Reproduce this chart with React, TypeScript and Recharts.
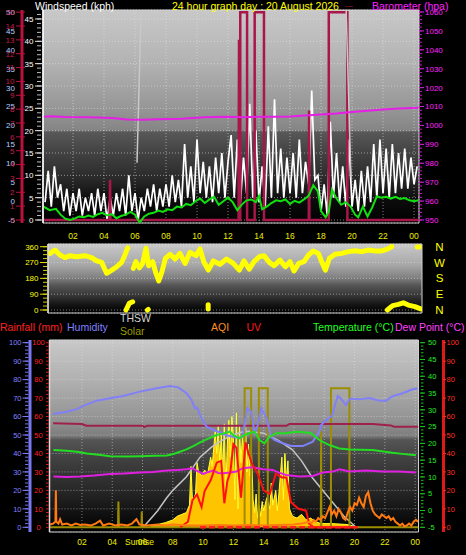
import React from 'react';
import { ComposedChart, Line, Area, XAxis, YAxis, CartesianGrid, ReferenceArea } from 'recharts';

const FONT = '"Liberation Sans", Arial, Helvetica, sans-serif';
type P = [number, number];
const pts = (a: P[]) => a.map(([h, v]) => ({ h, v }));
const range = (a: number, b: number, s: number) => {
  const out: number[] = [];
  for (let v = a; v <= b + 1e-9; v += s) out.push(Math.round(v * 1000) / 1000);
  return out;
};

/* ---------------- shared time axis ---------------- */
const hourTicks = [2, 4, 6, 8, 10, 12, 14, 16, 18, 20, 22, 24];
const hourLabels = ['02', '04', '06', '08', '10', '12', '14', '16', '18', '20', '22', '00'];

/* ---------------- panel 1 : wind speed / barometer ---------------- */
const windSpeedStartHour = 0.2;
const windSpeedStepHour = 0.2;
const windSpeedKph = [
  4, 11, 3, 12, 5, 8, 2, 7, 1, 6, 2, 7, 1, 5, 2, 6, 1, 7, 2, 6,
  0, 5, 1, 6, 2, 7, 1, 10, 2, 6, 0, 5, 2, 7, 3, 8, 2, 7, 3, 8,
  3, 10, 4, 9, 3, 17, 5, 12, 4, 18, 6, 13, 5, 12, 4, 14, 6, 15, 5, 13,
  19, 5, 18, 4, 14, 6, 26, 5, 20, 4, 12, 3, 21, 5, 27, 6, 16, 5, 14, 6,
  15, 5, 18, 6, 13, 8, 29, 9, 10, 2, 8, 1, 22, 5, 15, 4, 12, 3, 18, 3,
  9, 2, 11, 3, 12, 4, 17, 5, 18, 6, 16, 5, 17, 6, 15, 7, 16, 7, 14, 8, 12,
];
const windAvgKph: P[] = [
  [0.1, 3.0], [0.5, 2.2], [0.9, 2.5], [1.2, 1.2], [1.5, 0.3], [1.8, 0], [2.1, 0.3], [2.4, 0.8], [2.7, 0.6],
  [3.0, 1.0], [3.3, 0.7], [3.6, 1.3], [3.9, 1.6], [4.2, 1.0], [4.5, 1.3], [4.8, 0.4], [5.1, 0.9], [5.4, 1.2],
  [5.7, 1.8], [6.0, 1.2], [6.3, -0.6], [6.6, 0.8], [6.9, 1.4], [7.2, 1.6], [7.5, 2.1], [7.8, 1.8], [8.1, 2.4],
  [8.4, 2.2], [8.7, 3.0], [9.0, 2.8], [9.3, 3.6], [9.6, 3.3], [9.9, 4.2], [10.2, 4.8], [10.5, 3.8], [10.8, 4.6],
  [11.1, 5.2], [11.4, 3.4], [11.7, 4.2], [12.0, 5.0], [12.3, 4.0], [12.6, 2.2], [12.9, 3.5], [13.2, 4.4],
  [13.5, 4.6], [13.8, 4.0], [14.0, 5.4], [14.2, 2.4], [14.5, 3.0], [14.8, 3.8], [15.1, 4.4], [15.4, 4.2],
  [15.7, 4.6], [16.0, 3.6], [16.3, 4.3], [16.6, 3.9], [16.9, 4.6], [17.2, 5.4], [17.5, 7.8], [17.8, 6.4],
  [18.0, 2.0], [18.3, 0.6], [18.5, 1.8], [18.7, 6.8], [19.0, 4.8], [19.3, 3.4], [19.6, 4.0], [19.9, 3.0],
  [20.2, 1.2], [20.4, 0.6], [20.7, 3.0], [21.0, 0.8], [21.3, 2.8], [21.6, 5.3], [21.9, 5.0], [22.2, 5.2],
  [22.5, 4.8], [22.8, 5.2], [23.1, 4.7], [23.4, 4.9], [23.7, 4.4], [24.0, 4.2], [24.3, 4.4],
];
const barometerHpa: P[] = [
  [0.1, 1004.6], [0.6, 1004.9], [1.5, 1004.5], [3, 1004.4], [4.5, 1004.0], [5.5, 1003.2], [6.5, 1003.0],
  [7.5, 1003.3], [9, 1003.6], [10.5, 1004.3], [12, 1004.6], [13, 1004.4], [14, 1004.6], [15, 1004.6],
  [16, 1004.8], [17, 1005.3], [18, 1005.8], [19, 1006.3], [20, 1007.1], [21, 1007.8], [22, 1008.5],
  [23, 1009.0], [24.3, 1009.3],
];
const rainFlag: P[] = [
  [0.1, 0], [4.36, 0], [4.39, 2.9], [4.42, 0], [12.68, 0], [12.71, 13], [12.74, 0], [12.79, 0], [12.79, 15],
  [13.23, 15], [13.23, 0], [13.72, 0], [13.72, 15], [14.32, 15], [14.32, 0], [17.21, 0], [17.23, 7.9],
  [17.25, 0], [18.5, 0], [18.5, 15], [19.7, 15], [19.7, 0], [24.3, 0],
];
const gustTraceA: P[] = [[6.13, 12.8], [6.39, 47]];
const gustTraceB: P[] = [[19.62, 47], [19.93, 9.6]];
const kphTicks = [0, 5, 10, 15, 20, 25, 30, 35, 40, 45];
const altTicks = [-5, 0, 5, 10, 15, 20, 25, 30, 35, 40, 45, 50];
const bftTicks = [0, 1, 2, 3, 4, 5, 6, 7, 8, 9, 10, 11, 12, 13, 14, 15];
const baroTicks = [950, 960, 970, 980, 990, 1000, 1010, 1020, 1030, 1040, 1050, 1060];

/* ---------------- panel 2 : wind direction ---------------- */
const windDirSegments: P[][] = [
  [[0.52, 322], [0.84, 341], [1.16, 313], [1.48, 298], [1.81, 309], [2.24, 303], [2.77, 309], [3.2, 298],
   [3.53, 279], [3.85, 271], [4.17, 209], [4.5, 227], [4.82, 246], [5.14, 271], [5.35, 313], [5.53, 354]],
  [[5.42, 0], [5.63, 38], [5.85, 47]],
  [[5.89, 237], [6.06, 275], [6.28, 240], [6.49, 265], [6.71, 351], [6.88, 252], [7.14, 275], [7.35, 209],
   [7.53, 165], [7.74, 218], [7.96, 294], [8.26, 317], [8.58, 290], [8.9, 322], [9.23, 265], [9.55, 328],
   [9.94, 309], [10.19, 347], [10.45, 271], [10.73, 227], [11.05, 279], [11.48, 260], [11.91, 290],
   [12.34, 265], [12.73, 227], [13.03, 279], [13.37, 233], [13.68, 275], [14.02, 303], [14.32, 309],
   [14.67, 271], [14.97, 252], [15.35, 284], [15.7, 246], [16.0, 275], [16.26, 222], [16.56, 265],
   [16.9, 275], [17.2, 313], [17.5, 336], [17.83, 322], [18.06, 271], [18.28, 227], [18.54, 294],
   [18.9, 317], [19.33, 322], [19.76, 332], [20.19, 337], [20.62, 332], [21.05, 341], [21.48, 336],
   [21.91, 336], [22.24, 345], [22.56, 360]],
  [[24.21, 358], [24.34, 358]],
  [[22.28, 0], [22.62, 25], [22.99, 32], [23.31, 41], [23.63, 28], [24.06, 19], [24.43, 6]],
  [[6.8, 0], [6.85, 3]],
  [[10.72, 5], [10.72, 30]],
];
const dirTicks = [0, 90, 180, 270, 360];
const compassLabels = ['N', 'E', 'S', 'W', 'N'];

/* ---------------- panel 3 : humidity / temperature / solar ---------------- */
const humidityPct: P[] = [
  [0.1, 61.4], [1.0, 62.6], [1.66, 64], [2.2, 66.2], [2.98, 68.6], [3.86, 69.9], [4.73, 71.1], [5.83, 73.5],
  [6.93, 75.3], [7.81, 76.5], [8.36, 75.8], [8.91, 72.6], [9.24, 69], [9.46, 64.5], [9.6, 64.8], [9.9, 59],
  [10.23, 54.5], [10.67, 52.7], [11.1, 51.5], [11.5, 50], [11.95, 49], [12.3, 48.5], [12.62, 49],
  [12.89, 64.5], [13.17, 62.6], [13.4, 51], [13.6, 55], [13.83, 64.5], [14.16, 60], [14.49, 49],
  [14.71, 47.3], [15.26, 45.5], [15.81, 44], [16.58, 44], [17.24, 46.4], [17.68, 51.8], [17.79, 55.4],
  [18.12, 58.1], [18.51, 60.3], [18.67, 65.3], [18.89, 71.1], [19.1, 69.6], [19.43, 66.2], [19.7, 69.6],
  [20.32, 69.3], [20.98, 70], [21.64, 68.6], [22.08, 68.6], [22.51, 71], [23.17, 72.6], [23.83, 74.8],
  [24.16, 75.2],
];
const crimsonTrace: P[] = [
  [0.1, 56.3], [2.0, 55.9], [2.3, 55], [6.0, 55], [6.1, 54.3], [6.3, 55], [15.5, 55], [15.7, 56],
  [21.2, 56], [22.4, 55.2], [22.6, 54.5], [24.2, 54.5],
];
const temperatureC: P[] = [
  [0.12, 18.0], [1.0, 17.8], [1.66, 17.5], [2.32, 17.0], [3.1, 16.6], [3.86, 16.2], [5.0, 16.1], [5.83, 16.2],
  [6.8, 16.3], [7.6, 16.4], [8.1, 16.9], [8.47, 17.5], [8.9, 18.2], [9.35, 19.2], [9.8, 20.3], [10.23, 21.2],
  [10.89, 22.5], [11.3, 22.9], [11.77, 23.5], [11.97, 22.5], [12.4, 21.5], [12.73, 22.5], [13.06, 23],
  [13.4, 23.5], [13.72, 21], [14.05, 20], [14.38, 22], [14.82, 23], [15.48, 23], [16.0, 23.4], [16.36, 23.5],
  [17.13, 23], [17.68, 21], [18.0, 20.2], [18.34, 19.5], [19.0, 18.5], [19.66, 18.2], [20.4, 18.1],
  [21.2, 18], [21.9, 17.6], [22.5, 17.2], [23.3, 16.8], [24.05, 16.5],
];
const dewPointC: P[] = [
  [0.12, 10.1], [1.0, 10.0], [1.88, 10.1], [2.8, 10.4], [3.86, 10.9], [4.8, 11.0], [5.83, 11.3], [6.7, 11.5],
  [7.6, 11.9], [8.3, 12.1], [8.91, 12.3], [9.3, 12.6], [9.57, 11.9], [10.0, 10.9], [10.3, 11.4], [10.67, 11.9],
  [11.0, 11.2], [11.33, 11.1], [11.77, 11.3], [12.2, 11.6], [12.62, 12.6], [13.28, 12.9], [13.94, 12.3],
  [14.6, 12.1], [15.0, 11.3], [15.48, 10.6], [16.36, 10.1], [17.24, 10.3], [17.9, 11.3], [18.56, 11.6],
  [19.0, 12.3], [19.66, 11.6], [20.2, 11.8], [20.75, 11.9], [21.85, 11.6], [22.95, 11.6], [24.05, 11.3],
];
const thswArc: P[] = [
  [6.05, 0], [7.0, 9], [7.6, 16], [8.0, 20], [8.9, 27.4], [9.8, 38], [10.5, 43], [10.9, 45.5], [11.8, 49.5],
  [12.5, 51.5], [13.0, 52], [14.0, 51], [15.0, 47], [15.9, 42], [16.5, 36], [17.2, 27], [18.0, 19],
  [18.6, 13], [19.3, 6], [20.1, 0],
];
const solarOutline: P[] = [
  [-0.1, 0], [4.38, 0], [4.41, 13.9], [4.44, 0], [5.93, 0], [5.95, 8.5], [5.98, 0], [12.74, 0], [12.74, 75.3],
  [13.17, 75.3], [13.17, 0], [13.68, 0], [13.68, 75.3], [14.27, 75.3], [14.27, 0], [17.77, 0], [17.79, 52],
  [17.81, 0], [18.44, 0], [18.44, 75.3], [19.66, 75.3], [19.66, 0], [24.2, 0],
];
const solarArea: P[] = [
  [6.5, 0], [7.0, 1.5], [7.5, 2.5], [8.0, 4], [8.3, 6], [8.6, 7], [8.9, 8], [9.1, 12], [9.2, 33], [9.3, 14],
  [9.5, 18], [9.6, 35], [9.7, 30], [9.9, 28], [10.1, 31], [10.3, 29], [10.5, 38], [10.6, 33], [10.8, 52],
  [10.9, 40], [11.0, 55], [11.1, 35], [11.2, 50], [11.3, 30], [11.4, 56], [11.5, 20], [11.6, 45], [11.7, 58],
  [11.8, 38], [11.9, 60], [12.0, 48], [12.1, 15], [12.2, 62], [12.3, 10], [12.4, 55], [12.5, 35], [12.6, 50],
  [12.7, 42], [12.8, 58], [12.9, 30], [13.0, 45], [13.1, 28], [13.2, 40], [13.3, 15], [13.4, 8], [13.5, 18],
  [13.6, 5], [13.7, 12], [13.8, 6], [13.9, 14], [14.0, 9], [14.2, 16], [14.4, 10], [14.5, 24], [14.6, 12],
  [14.8, 20], [14.9, 9], [15.0, 18], [15.2, 38], [15.3, 15], [15.4, 40], [15.5, 25], [15.6, 36], [15.7, 10],
  [15.9, 6], [16.2, 5], [16.5, 7], [16.8, 4], [17.1, 5], [17.4, 3], [17.8, 2], [18.5, 2], [19.5, 1.5], [20.3, 0],
];
const uvLine: P[] = [
  [8.5, 0], [9.0, 3], [9.3, 14.7], [9.6, 17.8], [9.9, 11], [10.1, 19.6], [10.5, 25.5], [10.9, 35], [11.2, 36],
  [11.4, 13], [11.6, 25], [11.8, 30], [12.0, 45], [12.2, 43], [12.5, 16], [12.8, 46], [13.0, 40], [13.2, 35],
  [13.6, 29], [14.0, 20], [14.4, 18], [14.8, 29], [15.2, 27], [15.5, 27], [15.8, 13.6], [16.3, 10], [16.8, 9],
  [17.0, 2], [17.3, 0], [20.2, 0],
];
const rainfallMm: P[] = [[9.8, 0], [20.2, 0]];
const aqiValues: P[] = [
  [-0.1, 1.5], [0.1, 2], [0.25, 3], [0.28, 20], [0.31, 3], [0.45, 2], [0.56, 4.4], [0.7, 1.5], [1.0, 2],
  [1.3, 1], [1.6, 2], [1.88, 1.3], [2.2, 1.5], [2.6, 1], [2.9, 2], [3.2, 3.6], [3.4, 1], [3.8, 2], [4.2, 1],
  [4.6, 1.5], [5.0, 1], [5.3, 2], [5.6, 4.4], [5.8, 1.5], [6.3, 1], [7.0, 1.5], [7.5, 1], [8.0, 1.5], [9.0, 1],
  [10.0, 1], [11.0, 1.2], [12.0, 1], [13.0, 1.2], [14.0, 1], [15.0, 1.3], [16.0, 1.5], [16.5, 2],
  [17.0, 3], [17.15, 2], [17.3, 4], [17.45, 3], [17.6, 5], [17.75, 4], [17.9, 6], [18.05, 5], [18.2, 8],
  [18.35, 11], [18.5, 7], [18.65, 9], [18.8, 6], [18.95, 10], [19.1, 8], [19.25, 5], [19.4, 4], [19.55, 8],
  [19.7, 11], [19.85, 9], [20.0, 13], [20.15, 12], [20.3, 16], [20.45, 13], [20.6, 11], [20.75, 17],
  [20.9, 19], [21.05, 13], [21.2, 9], [21.35, 7], [21.5, 6], [21.65, 5], [21.8, 7], [21.95, 6], [22.1, 5],
  [22.25, 6], [22.4, 4], [22.55, 5], [22.7, 3], [22.85, 2], [23.0, 1], [23.15, 2], [23.3, 0.5], [23.45, 1],
  [23.6, 2], [23.75, 1], [23.9, 3], [24.05, 4], [24.2, 3],
];
const pctTicks = [0, 10, 20, 30, 40, 50, 60, 70, 80, 90, 100];
const tempTicks = [-5, 0, 5, 10, 15, 20, 25, 30, 35, 40, 45, 50];

/* ---------------- tick helpers ---------------- */
const labelTick = (tx: number, anchor: 'start' | 'middle' | 'end', color: string, size: number,
  fmt?: (v: number) => string, mark?: [number, number], markColor?: string, dy = 0) => (props: any) => {
  const y = props.y + dy;
  const v = props.payload.value;
  return (
    <g>
      {mark ? <line x1={mark[0]} x2={mark[1]} y1={y} y2={y} stroke={markColor || color} strokeWidth={1} /> : null}
      <text x={tx} y={y + size * 0.36} textAnchor={anchor} fill={color} fontSize={size} fontFamily={FONT}>
        {fmt ? fmt(v) : String(v)}
      </text>
    </g>
  );
};
const markTick = (x1: number, x2: number, color: string) => (props: any) => (
  <line x1={x1} x2={x2} y1={props.y} y2={props.y} stroke={color} strokeWidth={1} />
);
const hourTick = (y: number, withSunrise: boolean) => (props: any) => {
  const v = props.payload.value;
  const i = hourTicks.indexOf(v);
  return (
    <g>
      <text x={props.x} y={y} textAnchor="middle" fill="#eeee00" fontSize={8.5} fontFamily={FONT}>{hourLabels[i]}</text>
      {withSunrise && v === 6 ? (
        <text x={props.x - 3} y={y} textAnchor="middle" fill="#eeee00" fontSize={8.5} fontFamily={FONT}>Sunrise</text>
      ) : null}
    </g>
  );
};

const lineProps = { dot: false, activeDot: false, isAnimationActive: false, type: 'linear' as const, xAxisId: 't' };

const P1X: [number, number] = [0.065, 24.32];
const P1KPH: [number, number] = [-0.672, 47.01];
const P1BFT: [number, number] = [-0.2165, 15.155];
const P1ALT: [number, number] = [-5.79, 50.53];
const P1BARO: [number, number] = [948.41, 1061.06];
const P2X: [number, number] = [0.387, 24.516];
const P2DIR: [number, number] = [-17.1, 375.4];
const P3X: [number, number] = [-0.14, 24.22];
const P3PCT: [number, number] = [-2.55, 101.46];
const P3TEMP: [number, number] = [-6.4, 50.8];

export default function App() {
  return (
    <div style={{ position: 'absolute', left: 0, top: 0, width: 466, height: 555, background: '#000', overflow: 'hidden' }}>
      <svg width={0} height={0} style={{ position: 'absolute' }}>
        <defs>
          <linearGradient id="bg1" x1="0" y1="0" x2="0" y2="1">
            <stop offset="0" stopColor="#c8c8c8" />
            <stop offset="0.235" stopColor="#b4b4b4" />
            <stop offset="0.47" stopColor="#959595" />
            <stop offset="0.563" stopColor="#858585" />
            <stop offset="0.573" stopColor="#585858" />
            <stop offset="0.68" stopColor="#404040" />
            <stop offset="0.79" stopColor="#2a2a2a" />
            <stop offset="0.89" stopColor="#0c0c0c" />
            <stop offset="1" stopColor="#000000" />
          </linearGradient>
          <linearGradient id="bg2" x1="0" y1="0" x2="0" y2="1">
            <stop offset="0" stopColor="#c8c8c8" />
            <stop offset="0.3" stopColor="#a8a8a8" />
            <stop offset="0.49" stopColor="#808080" />
            <stop offset="0.6" stopColor="#555555" />
            <stop offset="0.74" stopColor="#383838" />
            <stop offset="0.88" stopColor="#141414" />
            <stop offset="1" stopColor="#000000" />
          </linearGradient>
          <linearGradient id="bg3" x1="0" y1="0" x2="0" y2="1">
            <stop offset="0" stopColor="#c8c8c8" />
            <stop offset="0.21" stopColor="#b0b0b0" />
            <stop offset="0.42" stopColor="#929292" />
            <stop offset="0.5" stopColor="#7c7c7c" />
            <stop offset="0.52" stopColor="#555555" />
            <stop offset="0.625" stopColor="#404040" />
            <stop offset="0.78" stopColor="#282828" />
            <stop offset="0.885" stopColor="#141414" />
            <stop offset="1" stopColor="#000000" />
          </linearGradient>
        </defs>
      </svg>

      {/* Panel 1 */}
      <div style={{ position: 'absolute', left: 0, top: 0 }}>
        <ComposedChart width={466} height={243} margin={{ top: 10, right: 0, bottom: 0, left: 0 }}>
          <CartesianGrid xAxisId="t" yAxisId="a_kph" fill="url(#bg1)" stroke="#e8e8e8" strokeOpacity={0.55} strokeDasharray="1 2" />
          <XAxis xAxisId="t" dataKey="h" type="number" domain={P1X} allowDataOverflow ticks={hourTicks} interval={0}
            height={20} axisLine={false} tickLine={false} tick={hourTick(239, false)} />
          <YAxis yAxisId="z_alt" orientation="left" width={1} type="number" domain={P1ALT} allowDataOverflow ticks={altTicks}
            interval={0} axisLine={false} tickLine={false} tick={labelTick(15, 'end', '#b4d0ff', 8)} />
          <YAxis yAxisId="z_kphMinor" orientation="left" width={1} type="number" domain={P1KPH} allowDataOverflow
            ticks={range(0, 46, 1)} interval={0} axisLine={false} tickLine={false} tick={markTick(37, 41, '#bdbdbd')} />
          <YAxis yAxisId="b_bft" orientation="left" width={20} type="number" domain={P1BFT} allowDataOverflow ticks={bftTicks}
            interval={0} axisLine={{ stroke: '#b8123f', strokeWidth: 3 }} tickLine={false}
            tick={labelTick(14.5, 'end', '#c8184a', 8, undefined, [16, 25], '#b8123f')} />
          <YAxis yAxisId="a_kph" orientation="left" width={21} type="number" domain={P1KPH} allowDataOverflow ticks={kphTicks}
            interval={0} axisLine={{ stroke: '#ffffff', strokeWidth: 1.5 }} tickLine={false}
            tick={labelTick(33.5, 'end', '#ffffff', 8, undefined, [35, 42], '#e0e0e0')} />
          <YAxis yAxisId="a_baro" orientation="right" width={46} type="number" domain={P1BARO} allowDataOverflow ticks={baroTicks}
            interval={0} axisLine={false} tickLine={false}
            tick={labelTick(425, 'start', '#ff22ff', 8, undefined, [419, 424], '#e020e0')} />
          <YAxis yAxisId="z_baroMinor" orientation="right" width={1} type="number" domain={P1BARO} allowDataOverflow
            ticks={range(950, 1060, 2)} interval={0} axisLine={false} tickLine={false} tick={markTick(419, 422, '#c018c0')} />

          <Line {...lineProps} yAxisId="a_kph" data={windSpeedKph.map((v, i) => ({ h: windSpeedStartHour + i * windSpeedStepHour, v }))}
            dataKey="v" stroke="#ffffff" strokeWidth={1.7} />
          <Line {...lineProps} yAxisId="b_bft" data={pts(rainFlag)} dataKey="v" stroke="#a8164a" strokeWidth={2.5} />
          <Line {...lineProps} yAxisId="a_kph" data={pts(windAvgKph)} dataKey="v" stroke="#10e010" strokeWidth={2} />
          <Line {...lineProps} yAxisId="a_kph" data={pts(gustTraceA)} dataKey="v" stroke="#c8c8c8" strokeWidth={1.5} />
          <Line {...lineProps} yAxisId="a_kph" data={pts(gustTraceB)} dataKey="v" stroke="#c8c8c8" strokeWidth={1.5} />
          <Line {...lineProps} yAxisId="a_baro" data={pts(barometerHpa)} dataKey="v" stroke="#e61ee6" strokeWidth={2} />
          <ReferenceArea xAxisId="t" yAxisId="a_kph" x1={P1X[0]} x2={P1X[1]} y1={P1KPH[0]} y2={P1KPH[1]}
            fill="none" stroke="#cfcfcf" strokeWidth={1} ifOverflow="visible" />
        </ComposedChart>
      </div>

      {/* Panel 2 */}
      <div style={{ position: 'absolute', left: 0, top: 236 }}>
        <ComposedChart width={466} height={85} margin={{ top: 8, right: 0, bottom: 8, left: 0 }}>
          <CartesianGrid xAxisId="t" yAxisId="a_dir" vertical={false} fill="url(#bg2)" stroke="#e8e8e8" strokeOpacity={0.5} strokeDasharray="1 2" />
          <XAxis xAxisId="t" dataKey="h" type="number" domain={P2X} allowDataOverflow hide />
          <YAxis yAxisId="z_dirMinor" orientation="left" width={1} type="number" domain={P2DIR} allowDataOverflow
            ticks={range(0, 360, 22.5)} interval={0} axisLine={false} tickLine={false} tick={markTick(43, 47, '#d0d000')} />
          <YAxis yAxisId="a_dir" orientation="left" width={47} type="number" domain={P2DIR} allowDataOverflow ticks={dirTicks}
            interval={0} axisLine={{ stroke: '#d8d8d8', strokeWidth: 1.5 }} tickLine={false}
            tick={labelTick(38.5, 'end', '#ffff00', 8, undefined, [40, 47], '#e0e000')} />
          <YAxis yAxisId="a_compass" orientation="right" width={44} type="number" domain={P2DIR} allowDataOverflow ticks={dirTicks}
            interval={0} axisLine={false} tickLine={false}
            tick={labelTick(439.5, 'middle', '#ffff00', 11.5, (v) => compassLabels[dirTicks.indexOf(v)])} />
          {windDirSegments.map((seg, i) => (
            <Line key={i} {...lineProps} yAxisId="a_dir" data={pts(seg)} dataKey="v" stroke="#ffff00" strokeWidth={5}
              strokeLinecap="round" strokeLinejoin="round" />
          ))}
          <ReferenceArea xAxisId="t" yAxisId="a_dir" x1={P2X[0]} x2={P2X[1]} y1={P2DIR[0]} y2={P2DIR[1]}
            fill="none" stroke="#cfcfcf" strokeWidth={1} ifOverflow="visible" />
        </ComposedChart>
      </div>

      {/* Panel 3 */}
      <div style={{ position: 'absolute', left: 0, top: 338 }}>
        <ComposedChart width={466} height={217} margin={{ top: 2, right: 0, bottom: 0, left: 0 }}>
          <CartesianGrid xAxisId="t" yAxisId="a_rain" fill="url(#bg3)" stroke="#e8e8e8" strokeOpacity={0.5} strokeDasharray="1 2" />
          <XAxis xAxisId="t" dataKey="h" type="number" domain={P3X} allowDataOverflow ticks={hourTicks} interval={0}
            height={23} axisLine={false} tickLine={false} tick={hourTick(207, true)} />
          <YAxis yAxisId="z_humMinor" orientation="left" width={1} type="number" domain={P3PCT} allowDataOverflow
            ticks={range(0, 100, 2)} interval={0} axisLine={false} tickLine={false} tick={markTick(25, 28.5, '#7070e0')} />
          <YAxis yAxisId="z_rainMinor" orientation="left" width={1} type="number" domain={P3PCT} allowDataOverflow
            ticks={range(0, 100, 2)} interval={0} axisLine={false} tickLine={false} tick={markTick(46, 49, '#e01818')} />
          <YAxis yAxisId="b_hum" orientation="left" width={28} type="number" domain={P3PCT} allowDataOverflow ticks={pctTicks}
            interval={0} axisLine={{ stroke: '#7878f0', strokeWidth: 3 }} tickLine={false}
            tick={labelTick(21.5, 'end', '#8080ff', 7.5, undefined, [22.5, 28.5], '#8080ff')} />
          <YAxis yAxisId="a_rain" orientation="left" width={19.5} type="number" domain={P3PCT} allowDataOverflow ticks={pctTicks}
            interval={0} axisLine={{ stroke: '#dcdcdc', strokeWidth: 1.5 }} tickLine={false}
            tick={labelTick(38.5, 'middle', '#ff2020', 7.5)} />
          <YAxis yAxisId="a_temp" orientation="right" width={25} type="number" domain={P3TEMP} allowDataOverflow ticks={tempTicks}
            interval={0} axisLine={false} tickLine={false}
            tick={labelTick(428, 'start', '#22ee22', 7.5, undefined, [420, 425], '#18d018')} />
          <YAxis yAxisId="b_uv" orientation="right" width={21.5} type="number" domain={P3PCT} allowDataOverflow ticks={pctTicks}
            interval={0} axisLine={{ stroke: '#e01818', strokeWidth: 3 }} tickLine={false}
            tick={labelTick(446.5, 'start', '#ff3020', 7.5, undefined, [443, 446], '#ff3020')} />
          <YAxis yAxisId="z_tempMinor" orientation="right" width={1} type="number" domain={P3TEMP} allowDataOverflow
            ticks={range(-5, 50, 1)} interval={0} axisLine={false} tickLine={false} tick={markTick(421, 423.5, '#18c018')} />

          <Area {...lineProps} yAxisId="a_rain" data={pts(solarArea)} dataKey="v" stroke="#ffff30" strokeWidth={1}
            fill="#ffc400" fillOpacity={1} />
          <Line {...lineProps} yAxisId="a_rain" data={pts(thswArc)} dataKey="v" stroke="#c4c4c4" strokeWidth={1.5} />
          <Line {...lineProps} yAxisId="a_rain" data={pts(solarOutline)} dataKey="v" stroke="#9c8e00" strokeWidth={2} />
          <Line {...lineProps} yAxisId="a_rain" data={pts(crimsonTrace)} dataKey="v" stroke="#a0204c" strokeWidth={2} />
          <Line {...lineProps} yAxisId="b_hum" data={pts(humidityPct)} dataKey="v" stroke="#8080f8" strokeWidth={2} />
          <Line {...lineProps} yAxisId="a_temp" data={pts(temperatureC)} dataKey="v" stroke="#22dd22" strokeWidth={2} />
          <Line {...lineProps} yAxisId="a_temp" data={pts(dewPointC)} dataKey="v" stroke="#e020e0" strokeWidth={2} />
          <Line {...lineProps} yAxisId="b_uv" data={pts(uvLine)} dataKey="v" stroke="#ff1010" strokeWidth={2} />
          <Line {...lineProps} yAxisId="a_rain" data={pts(aqiValues)} dataKey="v" stroke="#ff7a10" strokeWidth={2} />
          <Line {...lineProps} yAxisId="a_rain" data={pts(rainfallMm)} dataKey="v" stroke="#ff2020" strokeWidth={2.5} strokeDasharray="6 3" />
          <ReferenceArea xAxisId="t" yAxisId="a_rain" x1={P3X[0]} x2={P3X[1]} y1={P3PCT[0]} y2={P3PCT[1]}
            fill="none" stroke="#cfcfcf" strokeWidth={1} ifOverflow="visible" />
        </ComposedChart>
      </div>

      {/* titles and legend */}
      <svg width={466} height={555} style={{ position: 'absolute', left: 0, top: 0, pointerEvents: 'none' }} fontFamily={FONT}>
        <text x={35} y={10} fill="#ffffff" fontSize={10.5}>Windspeed (kph)</text>
        <text x={172} y={10} fill="#ffff00" fontSize={10.5}>24 hour graph day : 20 August 2026</text>
        <text x={345} y={8} fill="#c02040" fontSize={8}>---</text>
        <text x={372} y={10} fill="#ff20ff" fontSize={10.5}>Barometer (hpa)</text>
        <text x={0} y={330.5} fill="#ff2020" fontSize={10.5}>Rainfall (mm)</text>
        <text x={67} y={330.5} fill="#8080ff" fontSize={10.5}>Humidity</text>
        <text x={120} y={322} fill="#d4d4d4" fontSize={10.5}>THSW</text>
        <text x={120} y={335} fill="#9a9a00" fontSize={10.5}>Solar</text>
        <text x={211} y={330.5} fill="#ff9020" fontSize={10.5}>AQI</text>
        <text x={246.5} y={330.5} fill="#ff1818" fontSize={10.5}>UV</text>
        <text x={313} y={330.5} fill="#22ff22" fontSize={10.5}>Temperature (°C)</text>
        <text x={395} y={330.5} fill="#ff40ff" fontSize={10.5}>Dew Point (°C)</text>
      </svg>
    </div>
  );
}
